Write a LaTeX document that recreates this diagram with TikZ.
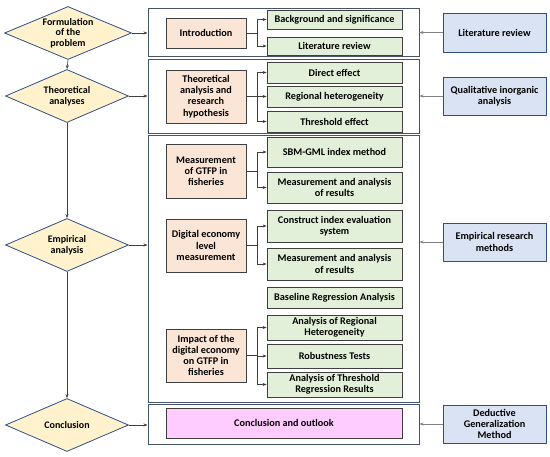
\documentclass[tikz,border=0pt]{standalone}
\usepackage{fontspec}
\setmainfont{Carlito}
\usepackage{xcolor}
\definecolor{stepfill}{HTML}{FFF2CC}
\definecolor{stepline}{HTML}{2F4F86}
\definecolor{orangefill}{HTML}{FBE5D6}
\definecolor{greenfill}{HTML}{E2F0D9}
\definecolor{bluefill}{HTML}{DAE3F3}
\definecolor{pinkfill}{HTML}{FFCCFF}
\definecolor{boxline}{HTML}{3F3F3F}
\definecolor{frameline}{HTML}{44546A}
\usepackage{tikz}
\usetikzlibrary{
    shapes.geometric,
    arrows.meta,
    positioning
}
\tikzstyle{arrow} = [
    line width=0.6pt,
    draw=boxline,
    ->,
    >={Stealth[length=4pt,width=3pt]}
]
\tikzstyle{stage} = [
    diamond, aspect=2.5, inner sep=-2pt,
    minimum width=123pt, minimum height=53pt,
    draw=stepline, line width=0.8pt, fill=stepfill,
    align=center, font=\bfseries\fontsize{10}{10.6}\selectfont
]
\tikzstyle{frame} = [
    rectangle, draw=frameline, line width=0.9pt, minimum width=271pt
]
\tikzstyle{topic} = [
    rectangle, draw=boxline, line width=0.8pt, fill=orangefill,
    minimum width=80pt, align=center, inner sep=0pt
]
\tikzstyle{item} = [
    rectangle, draw=boxline, line width=0.8pt, fill=greenfill,
    minimum width=135pt, align=center, inner sep=0pt
]
\tikzstyle{method} = [
    rectangle, draw=stepline, line width=0.8pt, fill=bluefill,
    minimum width=103pt, minimum height=38pt, align=center, inner sep=0pt
]

\begin{document}
\begin{tikzpicture}[x=1pt, y=-1pt,
    every node/.style={font=\bfseries\fontsize{10.2}{11.2}\selectfont}]

\useasboundingbox (0,0) rectangle (550,457);

% Rahmen
\node[frame, minimum height=48pt]  (frm1) at (283.5,32) {};
\node[frame, minimum height=74pt]  (frm2) at (283.5,96) {};
\node[frame, minimum height=267pt] (frm3) at (283.5,268.5) {};
\node[frame, minimum height=40pt]  (frm4) at (283.5,424) {};

% Stufen
\node[stage, minimum width=127pt] (formul) at (68,33) {Formulation\\of the\\problem};
\node[stage] (theory)    at (67,96)  {Theoretical\\analyses};
\node[stage] (empiric)   at (67,245) {Empirical\\analysis};
\node[stage] (conclude)  at (67,425) {Conclusion};

\draw[arrow] (formul.south) -- (theory.north);
\draw[arrow] (theory.south) -- (empiric.north);
\draw[arrow] (empiric.south) -- (conclude.north);

\draw[arrow] (formul.east)   -- (formul.east -| frm1.west);
\draw[arrow] (theory.east)   -- (theory.east -| frm2.west);
\draw[arrow] (empiric.east)  -- (empiric.east -| frm3.west);
\draw[arrow] (conclude.east) -- (conclude.east -| frm4.west);

% Inhalte
\node[topic, minimum height=30pt] (intro)  at (206,33)    {Introduction};
\node[topic, minimum height=53pt] (hypo)   at (206,96.5)  {Theoretical\\analysis and\\research\\hypothesis};
\node[topic, minimum height=54pt] (gtfp)   at (206,171)   {Measurement\\of GTFP in\\fisheries};
\node[topic, minimum height=53pt] (digit)  at (206,245.5) {Digital economy\\level\\measurement};
\node[topic, minimum height=53pt] (impact) at (206,355.5) {Impact of the\\digital economy\\on GTFP in\\fisheries};
\node[topic, fill=pinkfill, minimum width=236pt, minimum height=30pt]
    (outlook) at (284,423) {Conclusion and outlook};

\node[item, minimum height=19pt] (backgr)  at (334.5,19.5)  {Background and significance};
\node[item, minimum height=18pt] (litrev)  at (334.5,46)    {Literature review};
\node[item, minimum height=21pt] (direct)  at (334.5,72.5)  {Direct effect};
\node[item, minimum height=21pt] (reghet)  at (334.5,96.5)  {Regional heterogeneity};
\node[item, minimum height=21pt] (thresh)  at (334.5,121.5) {Threshold effect};
\node[item, minimum height=30pt] (sbmgml)  at (334.5,152)   {SBM-GML index method};
\node[item, minimum height=31pt] (measA)   at (334.5,187.5) {Measurement and analysis\\of results};
\node[item, minimum height=32pt] (constr)  at (334.5,226)   {Construct index evaluation\\system};
\node[item, minimum height=32pt] (measB)   at (334.5,264)   {Measurement and analysis\\of results};
\node[item, minimum height=21pt] (baseln)  at (334.5,297.5) {Baseline Regression Analysis};
\node[item, minimum height=25pt] (reganal) at (334.5,327.5) {Analysis of Regional\\Heterogeneity};
\node[item, minimum height=24pt] (robust)  at (334.5,356)   {Robustness Tests};
\node[item, minimum height=25pt] (thrreg)  at (334.5,384.5) {Analysis of Threshold\\Regression Results};

% Verzweigungen
\foreach \src/\dst in {intro/backgr, intro/litrev,
                       hypo/direct, hypo/reghet, hypo/thresh,
                       gtfp/sbmgml, gtfp/measA,
                       digit/constr, digit/measB,
                       impact/reganal, impact/robust, impact/thrreg} {
    \draw[arrow] (\src.east) -- ++(11,0) |- (\dst.west);
}

% Methoden
\node[method, minimum height=39pt] (mlit)  at (494.5,32.5) {Literature review};
\node[method] (mqual)  at (494.5,96)  {Qualitative inorganic\\analysis};
\node[method] (memp)   at (494.5,242) {Empirical research\\methods};
\node[method] (mded)   at (494.5,424) {Deductive\\Generalization\\Method};

\draw[arrow, draw=gray] (mlit.west)  -- (mlit.west -| frm1.east);
\draw[arrow, draw=gray] (mqual.west) -- (mqual.west -| frm2.east);
\draw[arrow, draw=gray] (memp.west)  -- (memp.west -| frm3.east);
\draw[arrow, draw=gray] (mded.west)  -- (mded.west -| frm4.east);

\end{tikzpicture}
\end{document}
